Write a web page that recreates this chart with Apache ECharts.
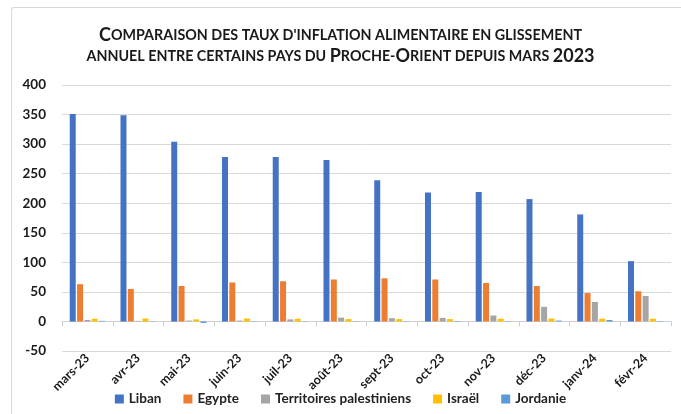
<!DOCTYPE html>
<html>
<head>
<meta charset="utf-8">
<script src="https://cdn.jsdelivr.net/npm/echarts@6/dist/echarts.min.js"></script>
<style>
  html, body { margin: 0; padding: 0; background: #fff; }
  #frame { position: absolute; left: 11px; top: 7px; width: 680px; height: 420px;
    border-left: 1px solid #d9d9d9; border-top: 1px solid #d9d9d9; border-radius: 3px 0 0 0; }
  #main { position: absolute; left: 0; top: 0; width: 681px; height: 414px; }
</style>
</head>
<body>
<div id="frame"></div>
<div id="main"></div>
<script>
var months = ['mars-23', 'avr-23', 'mai-23', 'juin-23', 'juil-23', 'août-23',
  'sept-23', 'oct-23', 'nov-23', 'déc-23', 'janv-24', 'févr-24'];
var liban = [351, 349, 304, 278, 278, 273, 239, 218, 219, 207, 181, 102];
var egypte = [63, 55, 60, 66, 68, 71, 73, 71, 65, 60, 48, 51];
var palestine = [2.5, 1, 1.5, 1.5, 3.5, 6.5, 5.5, 6, 10, 24.7, 33, 43];
var israel = [4.5, 5, 3.5, 5, 4.5, 4, 4, 4, 4.5, 5, 4.5, 4.5];
var jordanie = [1, 0.5, -2.5, 0.5, 0.5, 0.5, 0.5, 0.8, 0.5, 1.5, 2.5, 0.8];

var chart = echarts.init(document.getElementById('main'));

function serie(name, data, color) {
  return {
    name: name,
    type: 'bar',
    data: data,
    barWidth: 6,
    barGap: '22%',
    itemStyle: { color: color }
  };
}

var option = {
  animation: false,
  textStyle: { fontFamily: 'Lato' },
  title: {
    left: 'center',
    top: 20,
    text: '{b|C}{s|OMPARAISON DES TAUX D\'INFLATION ALIMENTAIRE EN GLISSEMENT}\n' +
      '{s|ANNUEL ENTRE CERTAINS PAYS DU }{b|P}{s|ROCHE-}{b|O}{s|RIENT DEPUIS MARS }{b|2023}',
    textStyle: {
      rich: {
        b: { fontFamily: 'Lato', fontWeight: 'bold', fontSize: 18, color: '#1a1a1a', lineHeight: 21 },
        s: { fontFamily: 'Lato', fontWeight: 'bold', fontSize: 14.3, color: '#1a1a1a', lineHeight: 21 }
      }
    }
  },
  legend: {
    bottom: 3,
    left: 'center',
    itemWidth: 9,
    itemHeight: 9,
    itemGap: 22,
    icon: 'rect',
    textStyle: { fontWeight: 'bold', fontSize: 13.5, color: '#222', fontFamily: 'Lato' }
  },
  grid: { left: 62, right: 10, top: 85, bottom: 63 },
  xAxis: {
    type: 'category',
    data: months,
    axisLine: { lineStyle: { color: '#d0d0d0' } },
    axisTick: { show: true, lineStyle: { color: '#d0d0d0' } },
    axisLabel: {
      rotate: 45,
      color: '#1a1a1a',
      fontWeight: 'bold',
      fontSize: 12.5,
      margin: 5,
      backgroundColor: '#fff',
      fontFamily: 'Lato'
    }
  },
  yAxis: {
    type: 'value',
    min: -50,
    max: 400,
    interval: 50,
    axisLabel: { color: '#1a1a1a', fontWeight: 'bold', fontSize: 13.5, margin: 16, fontFamily: 'Lato' },
    splitLine: { lineStyle: { color: '#d9d9d9' } }
  },
  series: [
    serie('Liban', liban, '#4472C4'),
    serie('Egypte', egypte, '#ED7D31'),
    serie('Territoires palestiniens', palestine, '#A5A5A5'),
    serie('Israël', israel, '#FFC000'),
    serie('Jordanie', jordanie, '#5B9BD5')
  ]
};
chart.setOption(option);
</script>
</body>
</html>
